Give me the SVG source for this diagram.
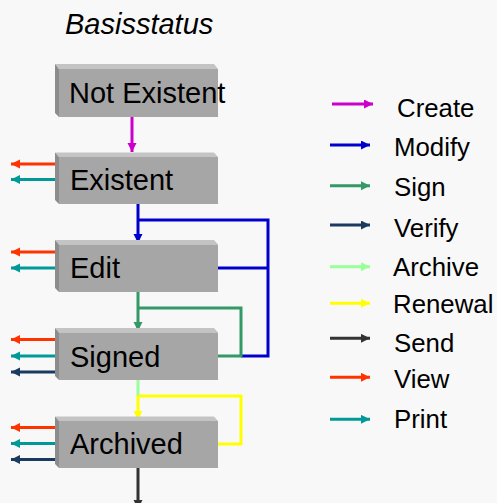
<svg xmlns="http://www.w3.org/2000/svg" width="497" height="503" viewBox="0 0 497 503">
<defs>
<style>
.bg{fill:#f8f8f8}
.front{fill:#a6a6a6}
.top{fill:#c4c4c4}
.side{fill:#8c8c8c}
.lbl{font-family:"Liberation Sans",Arial,sans-serif;font-size:29px;fill:#000}
.leg{font-family:"Liberation Sans",Arial,sans-serif;font-size:25.8px;fill:#000}
.ln{fill:none;stroke-width:3}
</style>
<marker id="mCreate" markerUnits="userSpaceOnUse" markerWidth="10" markerHeight="10" refX="9" refY="4.5" orient="auto"><path d="M0,0 L9,4.5 L0,9 z" fill="#cc00cc"/></marker>
<marker id="mModify" markerUnits="userSpaceOnUse" markerWidth="10" markerHeight="10" refX="9" refY="4.5" orient="auto"><path d="M0,0 L9,4.5 L0,9 z" fill="#0000cc"/></marker>
<marker id="mSign" markerUnits="userSpaceOnUse" markerWidth="10" markerHeight="10" refX="9" refY="4.5" orient="auto"><path d="M0,0 L9,4.5 L0,9 z" fill="#339966"/></marker>
<marker id="mVerify" markerUnits="userSpaceOnUse" markerWidth="10" markerHeight="10" refX="9" refY="4.5" orient="auto"><path d="M0,0 L9,4.5 L0,9 z" fill="#1a3a60"/></marker>
<marker id="mArchive" markerUnits="userSpaceOnUse" markerWidth="10" markerHeight="10" refX="9" refY="4.5" orient="auto"><path d="M0,0 L9,4.5 L0,9 z" fill="#99ff99"/></marker>
<marker id="mRenewal" markerUnits="userSpaceOnUse" markerWidth="10" markerHeight="10" refX="9" refY="4.5" orient="auto"><path d="M0,0 L9,4.5 L0,9 z" fill="#ffff00"/></marker>
<marker id="mSend" markerUnits="userSpaceOnUse" markerWidth="10" markerHeight="10" refX="9" refY="4.5" orient="auto"><path d="M0,0 L9,4.5 L0,9 z" fill="#333333"/></marker>
<marker id="mView" markerUnits="userSpaceOnUse" markerWidth="10" markerHeight="10" refX="9" refY="4.5" orient="auto"><path d="M0,0 L9,4.5 L0,9 z" fill="#ff3300"/></marker>
<marker id="mPrint" markerUnits="userSpaceOnUse" markerWidth="10" markerHeight="10" refX="9" refY="4.5" orient="auto"><path d="M0,0 L9,4.5 L0,9 z" fill="#009999"/></marker>
</defs>
<rect class="bg" x="0" y="0" width="497" height="503"/>
<text x="65" y="34" class="lbl" font-style="italic">Basisstatus</text>

<g id="connectors">
<line class="ln" x1="132" y1="117" x2="132" y2="152" stroke="#cc00cc" marker-end="url(#mCreate)"/>
<line class="ln" x1="138" y1="204" x2="138" y2="243" stroke="#0000cc" marker-end="url(#mModify)"/>
<path class="ln" d="M138,220 H268 V356 H241" stroke="#0000cc"/>
<path class="ln" d="M218,268 H268" stroke="#0000cc"/>
<line class="ln" x1="138" y1="292" x2="138" y2="331" stroke="#339966" marker-end="url(#mSign)"/>
<path class="ln" d="M138,308 H241 V356 H218" stroke="#339966"/>
<path class="ln" d="M138,380 V396" stroke="#99ff99"/>
<path class="ln" d="M218,444 H241 V396 H138" stroke="#ffff00"/>
<line class="ln" x1="138" y1="396" x2="138" y2="420" stroke="#ffff00" marker-end="url(#mRenewal)"/>
<line class="ln" x1="138" y1="468" x2="138" y2="509" stroke="#333333" marker-end="url(#mSend)"/>

<line class="ln" x1="58" y1="164" x2="11" y2="164" stroke="#ff3300" marker-end="url(#mView)"/>
<line class="ln" x1="58" y1="179.5" x2="11" y2="179.5" stroke="#009999" marker-end="url(#mPrint)"/>
<line class="ln" x1="58" y1="252" x2="11" y2="252" stroke="#ff3300" marker-end="url(#mView)"/>
<line class="ln" x1="58" y1="268" x2="11" y2="268" stroke="#009999" marker-end="url(#mPrint)"/>
<line class="ln" x1="58" y1="339.5" x2="11" y2="339.5" stroke="#ff3300" marker-end="url(#mView)"/>
<line class="ln" x1="58" y1="356" x2="11" y2="356" stroke="#009999" marker-end="url(#mPrint)"/>
<line class="ln" x1="58" y1="372" x2="11" y2="372" stroke="#1a3a60" marker-end="url(#mVerify)"/>
<line class="ln" x1="58" y1="427.5" x2="11" y2="427.5" stroke="#ff3300" marker-end="url(#mView)"/>
<line class="ln" x1="58" y1="443.5" x2="11" y2="443.5" stroke="#009999" marker-end="url(#mPrint)"/>
<line class="ln" x1="58" y1="459.5" x2="11" y2="459.5" stroke="#1a3a60" marker-end="url(#mVerify)"/>
</g>

<g id="not-existent">
<polygon class="top" points="55,64 214,64 218,69 59,69"/>
<polygon class="side" points="55,64 59,69 59,117 55,113"/>
<rect class="front" x="59" y="69" width="159" height="48"/>
<text x="69" y="103" class="lbl">Not Existent</text>
</g>
<g id="existent">
<polygon class="top" points="55,152.5 214,152.5 218,157 59,157"/>
<polygon class="side" points="55,152.5 59,157 59,204 55,200"/>
<rect class="front" x="59" y="157" width="159" height="47"/>
<text x="70" y="190" class="lbl">Existent</text>
</g>
<g id="edit">
<polygon class="top" points="55,240 214,240 218,244.5 59,244.5"/>
<polygon class="side" points="55,240 59,244.5 59,292 55,288"/>
<rect class="front" x="59" y="244.5" width="159" height="47.5"/>
<text x="70" y="278" class="lbl">Edit</text>
</g>
<g id="signed">
<polygon class="top" points="55,328 214,328 218,332.5 59,332.5"/>
<polygon class="side" points="55,328 59,332.5 59,380 55,376"/>
<rect class="front" x="59" y="332.5" width="159" height="47.5"/>
<text x="70" y="367" class="lbl">Signed</text>
</g>
<g id="archived">
<polygon class="top" points="55,416.5 214,416.5 218,421 59,421"/>
<polygon class="side" points="55,416.5 59,421 59,468 55,464"/>
<rect class="front" x="59" y="421" width="159" height="47"/>
<text x="70" y="453.5" class="lbl">Archived</text>
</g>

<g id="legend">
<line class="ln" x1="332" y1="104" x2="373" y2="104" stroke="#cc00cc" marker-end="url(#mCreate)"/>
<text x="397" y="116.5" class="leg">Create</text>
<line class="ln" x1="330" y1="145" x2="370" y2="145" stroke="#0000cc" marker-end="url(#mModify)"/>
<text x="394" y="155.7" class="leg">Modify</text>
<line class="ln" x1="330" y1="185.7" x2="370" y2="185.7" stroke="#339966" marker-end="url(#mSign)"/>
<text x="394" y="196" class="leg">Sign</text>
<line class="ln" x1="330" y1="225" x2="370" y2="225" stroke="#1a3a60" marker-end="url(#mVerify)"/>
<text x="394" y="236.5" class="leg">Verify</text>
<line class="ln" x1="330" y1="266.7" x2="370" y2="266.7" stroke="#99ff99" marker-end="url(#mArchive)"/>
<text x="393" y="275.7" class="leg">Archive</text>
<line class="ln" x1="330" y1="303.3" x2="370" y2="303.3" stroke="#ffff00" marker-end="url(#mRenewal)"/>
<text x="393" y="313.3" class="leg">Renewal</text>
<line class="ln" x1="330" y1="338.3" x2="370" y2="338.3" stroke="#333333" marker-end="url(#mSend)"/>
<text x="394" y="351.7" class="leg" font-size="29">Send</text>
<line class="ln" x1="330" y1="377.3" x2="370" y2="377.3" stroke="#ff3300" marker-end="url(#mView)"/>
<text x="394" y="388.3" class="leg">View</text>
<line class="ln" x1="330" y1="419.3" x2="370" y2="419.3" stroke="#009999" marker-end="url(#mPrint)"/>
<text x="394" y="428.3" class="leg">Print</text>
</g>
</svg>
